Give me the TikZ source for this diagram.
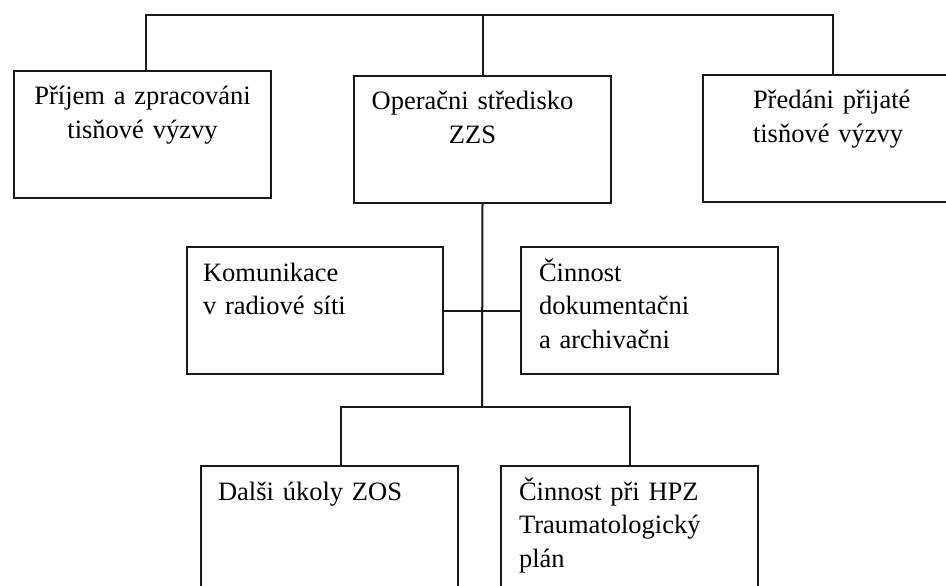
\documentclass[tikz,border=0pt]{standalone}
\usepackage{fontspec}
\setmainfont{Liberation Serif}
\usepackage{tikz}

\begin{document}
\begin{tikzpicture}[x=1pt,y=-1pt]
\tikzstyle{every node}=[font=\fontsize{26.5}{33.5}\selectfont]
\tikzstyle{box}=[draw=black!90,line width=2pt,anchor=north west,inner ysep=0pt,text height=34pt,text depth=93pt]
\tikzstyle{link}=[draw=black!90,line width=2pt]

\path[fill=white,use as bounding box] (0,0) rectangle (946,586);
\clip (0,0) rectangle (946,586);

\node[box,minimum width=257pt,inner xsep=0pt,text width=250pt,align=center] (prijem) at (13,70) {P\v{r}íjem a zpracováni\\tis\v{n}ové výzvy};
\node[box,minimum width=257pt,inner xsep=0pt,text width=250pt,align=center] (stredisko) at (353,75) {Opera\v{c}ni st\v{r}edisko\rule{20pt}{0pt}\\ZZS\rule{20pt}{0pt}};
\node[box,inner xsep=50pt,text width=200pt,align=left] (predani) at (702,74) {P\v{r}edáni p\v{r}ijaté\\tis\v{n}ové výzvy};

\node[box,minimum width=256pt,inner xsep=16pt,text width=224pt,align=left] (komunikace) at (186,246) {Komunikace\\v radiové síti};
\node[box,minimum width=257pt,inner xsep=18pt,text width=221pt,align=left] (cinnost) at (520,246) {\v{C}innost\\dokumenta\v{c}ni\\a archiva\v{c}ni};

\node[box,minimum width=257pt,inner xsep=17pt,text width=223pt,align=left] (dalsi) at (200,465) {Dal\v{s}i úkoly ZOS};
\node[box,minimum width=257pt,inner xsep=18pt,text width=221pt,align=left] (hpz) at (500,465) {\v{C}innost p\v{r}i HPZ\\Traumatologický\\plán};

\coordinate (topbar) at (482,15);
\coordinate (fork) at (482,407);

\draw[link] ([xshift=3.5pt]prijem.north) |- (topbar) -| ([xshift=131pt]predani.north west);
\draw[link] (stredisko.north) -- (stredisko.north |- topbar);
\draw[link] (stredisko.south) -- (fork);
\draw[link] (komunikace.east) -- (cinnost.west);
\draw[link] ([xshift=11.5pt]dalsi.north) |- (fork) -| (hpz.north);
\end{tikzpicture}
\end{document}
